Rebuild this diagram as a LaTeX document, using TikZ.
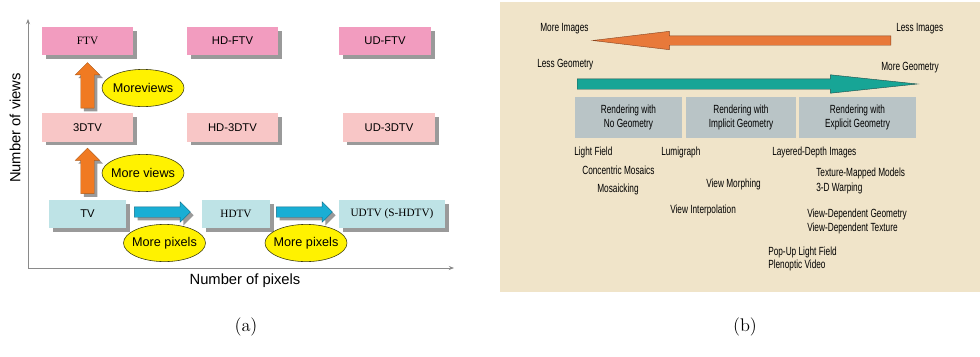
\documentclass[tikz,border=0pt]{standalone}
\usepackage{fontspec}
\usepackage{xcolor}
\usepackage{tikz}
\usetikzlibrary{arrows.meta, calc, shapes.geometric, shapes.arrows, shadows}

\newfontfamily\arialfont{Liberation Sans}
\newfontfamily\timesfont{Liberation Serif}
\newfontfamily\narrowfont[FakeStretch=0.7]{Liberation Sans}
\newcommand\tvsans{\arialfont\fontsize{8}{9.6}\selectfont}
\newcommand\tvserif{\timesfont\fontsize{8}{9.6}\selectfont}
\newcommand\bubblefont{\arialfont\fontsize{9}{10.8}\selectfont}
\newcommand\axisfont{\arialfont\fontsize{10.5}{12.6}\selectfont}
\newcommand\ibrfont{\narrowfont\fontsize{8.4}{10}\selectfont}
\newcommand\bubtext[1]{\makebox[0pt]{#1}}

\definecolor{ftvpink}{HTML}{F29CBF}
\definecolor{stereopink}{HTML}{F8C6C6}
\definecolor{monocyan}{HTML}{BEE3E6}
\definecolor{shadowgray}{HTML}{9A9A9A}
\definecolor{viewsorange}{HTML}{F07A22}
\definecolor{viewsedge}{HTML}{B05A18}
\definecolor{pixelsblue}{HTML}{1AAED4}
\definecolor{pixelsedge}{HTML}{0D6E8A}
\definecolor{bubbleyellow}{HTML}{FFF200}
\definecolor{bubbleedge}{HTML}{3A3A10}
\definecolor{axisgray}{HTML}{8A8A8A}
\definecolor{panelbeige}{HTML}{F0E4C9}
\definecolor{methodgray}{HTML}{B9C4C6}
\definecolor{imagesorange}{HTML}{E8793A}
\definecolor{imagesedge}{HTML}{8A4420}
\definecolor{geomteal}{HTML}{17A596}
\definecolor{geomedge}{HTML}{1F4F4A}

\begin{document}
\begin{tikzpicture}[x=0.025cm, y=-0.025cm,
        tvbox/.style={minimum height=0.7cm, inner sep=0pt, font=\tvsans, drop shadow={shadow xshift=0.09cm, shadow yshift=-0.09cm, fill=shadowgray, opacity=1}},
        ftvrow/.style={tvbox, fill=ftvpink},
        stereorow/.style={tvbox, fill=stereopink},
        monorow/.style={tvbox, fill=monocyan},
        viewsarrow/.style={single arrow, shape border rotate=90, single arrow head extend=0.1375cm, inner ysep=0pt, inner xsep=0.1625cm, minimum height=1.14cm, fill=viewsorange, draw=viewsedge, line width=0.3pt, drop shadow={shadow xshift=0.08cm, shadow yshift=-0.08cm, fill=shadowgray, opacity=1}},
        pixelsarrow/.style={single arrow, single arrow head extend=0.125cm, inner xsep=0pt, inner ysep=0.125cm, minimum height=1.4cm, fill=pixelsblue, draw=pixelsedge, line width=0.3pt, drop shadow={shadow xshift=0.08cm, shadow yshift=-0.08cm, fill=shadowgray, opacity=1}},
        bubble/.style={ellipse, draw=bubbleedge, fill=bubbleyellow, line width=0.4pt, minimum width=2.05cm, minimum height=0.93cm, inner sep=0pt, font=\bubblefont},
        axis/.style={draw=axisgray, line width=0.5pt, {Stealth[length=1.3mm, width=1mm]}-{Stealth[length=1.3mm, width=1mm]}},
        method/.style={fill=methodgray, minimum height=1.025cm, inner sep=0pt, align=center, font=\ibrfont},
        tag/.style={anchor=west, inner sep=0pt, font=\ibrfont},
        caption/.style={inner sep=0pt, font=\fontsize{13}{15}\selectfont}
    ]
        \useasboundingbox (0,0) rectangle (980,356);

        % (a) TV formats
        \coordinate (origin) at (28,268);
        \coordinate (xend) at (454,268);
        \coordinate (yend) at (28,19);
        \draw[axis] (yend) -- (origin) -- (xend);
        \node[font=\axisfont, rotate=90] (viewslabel) at (15,128) {Number of views};
        \node[font=\axisfont] (pixelslabel) at (245,281) {Number of pixels};

        \node[ftvrow, minimum width=2.275cm, font=\tvserif] (ftv) at (87.5,41) {FTV};
        \node[ftvrow, minimum width=2.275cm] (hdftv) at (232.5,41) {HD-FTV};
        \node[ftvrow, minimum width=2.3cm] (udftv) at (385,41) {UD-FTV};
        \node[stereorow, minimum width=2.275cm] (stereo) at (87.5,127.5) {3DTV};
        \node[stereorow, minimum width=2.275cm] (hdstereo) at (232.5,127.5) {HD-3DTV};
        \node[stereorow, minimum width=2.3cm] (udstereo) at (389,127.5) {UD-3DTV};
        \node[monorow, minimum width=1.925cm] (tv) at (87.5,214) {TV};
        \node[monorow, minimum width=1.7cm, font=\tvserif] (hdtv) at (236,214) {HDTV};
        \node[monorow, minimum width=2.65cm, font=\tvserif] (udtv) at (392,214) {UDTV (S-HDTV)};

        \node[viewsarrow, anchor=tip] (toftv) at ($(ftv.south)+(0,7)$) {};
        \node[viewsarrow, anchor=tip] (tostereo) at ($(stereo.south)+(0,6)$) {};
        \node[pixelsarrow, anchor=tip] (tohdtv) at ($(hdtv.west)+(-11,-2)$) {};
        \node[pixelsarrow, anchor=tip] (toudtv) at ($(udtv.west)+(-6,-2)$) {};

        \node[bubble] (moreviewstop) at (143,88) {\bubtext{Moreviews}};
        \node[bubble] (moreviews) at (143,173) {\bubtext{More views}};
        \node[bubble] (morepixels) at (164.5,243) {\bubtext{More pixels}};
        \node[bubble] (morepixelsud) at (306,243) {\bubtext{More pixels}};

        % (b) image-based rendering
        \fill[panelbeige] (500,2) rectangle (980,292);
        \node[single arrow, shape border rotate=180, anchor=tail, single arrow head extend=0.1125cm, single arrow tip angle=13.7, inner xsep=0pt, inner ysep=0.1125cm, minimum height=7.45cm, fill=imagesorange, draw=imagesedge, line width=0.3pt] (images) at (891,40.5) {};
        \node[single arrow, anchor=tail, single arrow head extend=0.1cm, single arrow tip angle=12.1, inner xsep=0pt, inner ysep=0.125cm, minimum height=8.5cm, fill=geomteal, draw=geomedge, line width=0.3pt] (geometry) at (577,84) {};
        \node[tag] (moreimages) at (540,29) {More Images};
        \node[tag] (lessimages) at (896,29) {Less Images};
        \node[tag] (lessgeom) at (537,65) {Less Geometry};
        \node[tag] (moregeom) at (881,68) {More Geometry};

        \node[method, minimum width=2.675cm] (nogeom) at (628.5,117.5) {Rendering with\\No Geometry};
        \node[method, minimum width=2.75cm] (implicit) at (741,117.5) {Rendering with\\Implicit Geometry};
        \node[method, minimum width=2.925cm] (explicit) at (857.5,117.5) {Rendering with\\Explicit Geometry};

        \node[tag] (lightfield) at (574,152) {Light Field};
        \node[tag] (lumigraph) at (661,152) {Lumigraph};
        \node[tag] (layered) at (772,152) {Layered-Depth Images};
        \node[tag] (concentric) at (582,170) {Concentric Mosaics};
        \node[tag] (texture) at (816,173) {Texture-Mapped Models};
        \node[tag] (mosaicking) at (597,189) {Mosaicking};
        \node[tag] (morphing) at (706,184) {View Morphing};
        \node[tag] (warping) at (816,188) {3-D Warping};
        \node[tag] (interp) at (670,210) {View Interpolation};
        \node[tag] (vdgeom) at (807,214) {View-Dependent Geometry};
        \node[tag] (vdtex) at (807,228) {View-Dependent Texture};
        \node[tag] (popup) at (768,252) {Pop-Up Light Field};
        \node[tag] (plenoptic) at (768,265) {Plenoptic Video};

        \node[caption] (capa) at (246,327) {(a)};
        \node[caption] (capb) at (745,327) {(b)};
    \end{tikzpicture}
\end{document}
